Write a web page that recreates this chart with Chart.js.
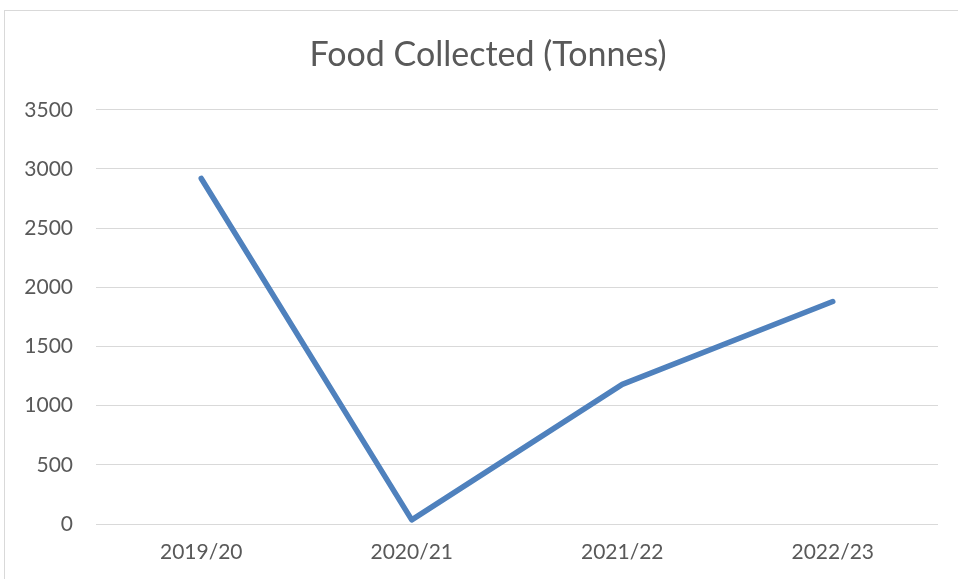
<!DOCTYPE html>
<html>
<head>
<meta charset="utf-8">
<script src="https://cdn.jsdelivr.net/npm/chart.js@4.4.1/dist/chart.umd.min.js"></script>
<style>
  html, body { margin: 0; padding: 0; background: #fff; }
  #wrap { position: relative; width: 958px; height: 579px; overflow: hidden; }
  #frame { position: absolute; left: 4px; top: 10px; width: 980px; height: 600px; border: 1px solid #d9d9d9; box-sizing: border-box; }
  canvas { position: absolute; left: 0; top: 0; }
</style>
</head>
<body>
<div id="wrap">
  <div id="frame"></div>
  <canvas id="chart" width="958" height="579"></canvas>
</div>
<script>
// data
const seasons = ['2019/20', '2020/21', '2021/22', '2022/23'];
const tonnes = [2920, 35, 1180, 1880];
const yTicks = [0, 500, 1000, 1500, 2000, 2500, 3000, 3500];

const grey = '#595959';

// the title sits centred over the whole frame, not the padded box
const titleShift = {
  id: 'titleShift',
  afterLayout(chart) {
    if (chart.titleBlock) chart.titleBlock.left = 38;
  }
};

const ctx = document.getElementById('chart').getContext('2d');
new Chart(ctx, {
  type: 'line',
  data: {
    labels: seasons,
    datasets: [{
      label: 'Food Collected (Tonnes)',
      data: tonnes,
      borderColor: '#4F81BD',
      borderWidth: 5.5,
      borderCapStyle: 'round',
      borderJoinStyle: 'round',
      pointRadius: 0,
      tension: 0,
      fill: false
    }]
  },
  options: {
    responsive: false,
    animation: false,
    layout: {padding: {left: 0, right: 20, top: 0, bottom: 15}},
    plugins: {
      legend: {display: false},
      tooltip: {enabled: false},
      title: {
        display: true,
        text: 'Food Collected (Tonnes)',
        color: grey,
        font: {family: 'Lato', size: 34, weight: 'normal', lineHeight: 1.2},
        padding: {top: 35, bottom: 34}
      }
    },
    scales: {
      x: {
        offset: true,
        grid: {display: false, drawTicks: false},
        border: {display: false},
        afterFit: axis => { axis.height = 40; },
        ticks: {color: grey, font: {family: 'Lato', size: 21}, padding: 16}
      },
      y: {
        min: 0,
        max: 3500,
        afterBuildTicks: axis => { axis.ticks = yTicks.map(v => ({value: v})); },
        afterFit: axis => { axis.width = 96; },
        grid: {color: '#d9d9d9', lineWidth: 1, drawTicks: false},
        border: {display: false},
        ticks: {
          color: grey,
          font: {family: 'Lato', size: 21},
          padding: 23,
          callback: v => String(v)
        }
      }
    }
  },
  plugins: [titleShift]
});
</script>
</body>
</html>
